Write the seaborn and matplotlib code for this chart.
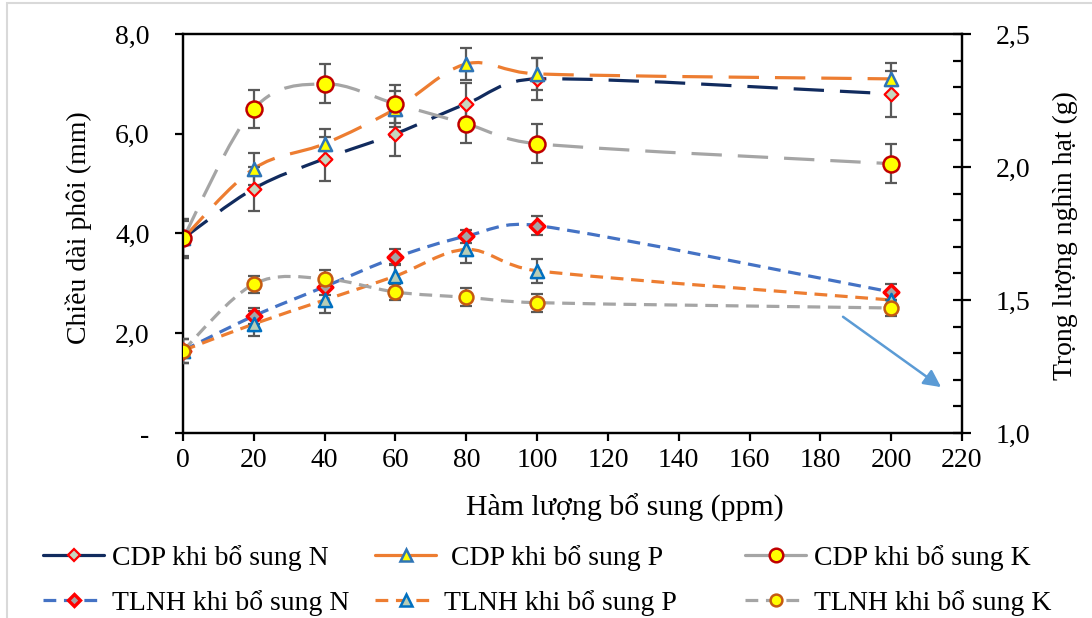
import numpy as np
import pandas as pd
import matplotlib
matplotlib.use("Agg")
import matplotlib.pyplot as plt
import seaborn as sns
from matplotlib.path import Path
from matplotlib.patches import PathPatch, Rectangle
from matplotlib.lines import Line2D
from matplotlib.ticker import FixedLocator, FixedFormatter, MultipleLocator

# ---- data -------------------------------------------------------------
doses = [0, 20, 40, 60, 80, 100, 200]                      # ppm

# embryo length (mm), left axis
cdp_n = [3.9, 4.9, 5.5, 6.0, 6.6, 7.1, 6.8]
cdp_n_err = [0.40, 0.44, 0.44, 0.44, 0.42, 0.42, 0.46]
cdp_p = [3.9, 5.3, 5.8, 6.5, 7.4, 7.2, 7.1]
cdp_p_err = [0.35, 0.32, 0.30, 0.36, 0.32, 0.32, 0.32]
cdp_k = [3.9, 6.5, 7.0, 6.6, 6.2, 5.8, 5.4]
cdp_k_err = [0.40, 0.38, 0.39, 0.38, 0.38, 0.39, 0.39]

# thousand-grain weight (g), right axis
tlnh_n = [1.31, 1.44, 1.55, 1.66, 1.74, 1.78, 1.53]
tlnh_n_err = [0.045, 0.030, 0.030, 0.030, 0.025, 0.034, 0.030]
tlnh_p = [1.31, 1.41, 1.50, 1.59, 1.69, 1.61, 1.50]
tlnh_p_err = [0.045, 0.047, 0.050, 0.045, 0.050, 0.045, 0.030]
tlnh_k = [1.31, 1.56, 1.58, 1.53, 1.51, 1.49, 1.47]
tlnh_k_err = [0.045, 0.032, 0.034, 0.030, 0.034, 0.034, 0.030]

x_ticks = [0, 20, 40, 60, 80, 100, 120, 140, 160, 180, 200, 220]
left_ticks = [0, 2, 4, 6, 8]
left_labels = ["-", "2,0", "4,0", "6,0", "8,0"]
right_ticks = [1.0, 1.5, 2.0, 2.5]
right_labels = ["1,0", "1,5", "2,0", "2,5"]

labels = {
    "cdp_n": "CDP khi bổ sung N", "cdp_p": " CDP khi bổ sung P", "cdp_k": "CDP khi bổ sung K",
    "tlnh_n": "TLNH khi bổ sung N", "tlnh_p": "TLNH khi bổ sung P", "tlnh_k": "TLNH khi bổ sung K",
}

# ---- style ------------------------------------------------------------
sns.set_theme(style="white")
FONT = ["Liberation Serif", "DejaVu Serif"]
plt.rcParams["font.family"] = FONT
plt.rcParams["text.color"] = "black"
plt.rcParams["axes.labelcolor"] = "black"
plt.rcParams["xtick.color"] = "black"
plt.rcParams["ytick.color"] = "black"
FS = 20

NAVY, ORANGE, GRAY, BLUE = "#112B5E", "#ED7D31", "#A5A5A5", "#4472C4"
ERR = "#595959"
LONG_DASH = (0, (9.5, 5))
SHORT_DASH = (0, (4, 2.4))

series = {
    "cdp_n": dict(y=cdp_n, err=cdp_n_err, axis="L", color=NAVY, ls=LONG_DASH, marker="D",
                  ms=7.0, mfc="#C6D7BF", mec="#FF0000", mew=1.6),
    "cdp_p": dict(y=cdp_p, err=cdp_p_err, axis="L", color=ORANGE, ls=LONG_DASH, marker="^",
                  ms=9.5, mfc="#FFFF00", mec="#2E75B6", mew=1.8),
    "cdp_k": dict(y=cdp_k, err=cdp_k_err, axis="L", color=GRAY, ls=LONG_DASH, marker="o",
                  ms=11.5, mfc="#FFFF00", mec="#C00000", mew=1.8),
    "tlnh_n": dict(y=tlnh_n, err=tlnh_n_err, axis="R", color=BLUE, ls=SHORT_DASH, marker="D",
                   ms=7.5, mfc="#A5A5A5", mec="#FF0000", mew=2.4),
    "tlnh_p": dict(y=tlnh_p, err=tlnh_p_err, axis="R", color=ORANGE, ls=SHORT_DASH, marker="^",
                   ms=9.5, mfc="#B7CDB6", mec="#0070C0", mew=1.8),
    "tlnh_k": dict(y=tlnh_k, err=tlnh_k_err, axis="R", color=GRAY, ls=SHORT_DASH, marker="o",
                   ms=10.0, mfc="#FFFF00", mec="#C55A11", mew=1.8),
}

W, H = 1092, 618
fig = plt.figure(figsize=(W / 100, H / 100), dpi=100)
fig.patch.set_facecolor("white")
ax = fig.add_axes([183 / W, 1 - 433 / H, 779 / W, 399 / H])
ax2 = ax.twinx()

ax.set_xlim(0, 220)
ax.set_ylim(0, 8)
ax2.set_ylim(1.0, 2.5)


def smooth_path(axis, xs, ys):
    """Excel-like smoothed curve: cubic Bezier through the points, control
    arms of 1/6 of the neighbour chord, capped at half the segment length
    (computed in display space)."""
    pts = axis.transData.transform(np.column_stack([xs, ys]))
    n = len(pts)
    verts = [pts[0]]
    codes = [Path.MOVETO]
    for i in range(n - 1):
        p0 = pts[i - 1] if i > 0 else pts[i]
        p1, p2 = pts[i], pts[i + 1]
        p3 = pts[i + 2] if i + 2 < n else pts[i + 1]
        seg = np.hypot(*(p2 - p1))
        d02 = np.hypot(*(p2 - p0))
        d13 = np.hypot(*(p3 - p1))
        f0 = min(1 / 6, 0.5 * seg / d02) if d02 > 0 else 0
        f1 = min(1 / 6, 0.5 * seg / d13) if d13 > 0 else 0
        verts += [p1 + f0 * (p2 - p0), p2 - f1 * (p3 - p1), p2]
        codes += [Path.CURVE4] * 3
    data_verts = axis.transData.inverted().transform(np.array(verts))
    return Path(data_verts, codes)


for key, s in series.items():
    target = ax if s["axis"] == "L" else ax2
    frame = pd.DataFrame({"dose": doses, "value": s["y"]})
    patch = PathPatch(smooth_path(target, doses, s["y"]), facecolor="none",
                      edgecolor=s["color"], lw=2.3, linestyle=s["ls"],
                      capstyle="butt", zorder=2)
    target.add_patch(patch)
    target.errorbar(doses, s["y"], yerr=s["err"], fmt="none", ecolor=ERR,
                    elinewidth=1.6, capsize=4, capthick=1.6, zorder=3)
    sns.scatterplot(data=frame, x="dose", y="value", ax=target, marker=s["marker"],
                    s=s["ms"] ** 2, color=s["mfc"], edgecolor=s["mec"],
                    linewidth=s["mew"], zorder=4, legend=False)

# ---- axes formatting --------------------------------------------------
for a in (ax, ax2):
    a.set_xlabel("")
    a.set_ylabel("")
    for sp in a.spines.values():
        sp.set_color("black")
        sp.set_linewidth(1.6)
    a.set_facecolor("none")
ax.set_facecolor("white")
ax2.set_zorder(ax.get_zorder() + 1)

ax.xaxis.set_major_locator(FixedLocator(x_ticks))
ax.set_xticklabels([str(v) for v in x_ticks])
ax.yaxis.set_major_locator(FixedLocator(left_ticks))
ax.yaxis.set_major_formatter(FixedFormatter(left_labels))
ax2.yaxis.set_major_locator(FixedLocator(right_ticks))
ax2.yaxis.set_major_formatter(FixedFormatter(right_labels))
ax2.yaxis.set_minor_locator(MultipleLocator(0.1))

ax.tick_params(axis="x", direction="out", length=6, width=1.6, labelsize=FS, pad=5,
               colors="black", bottom=True)
ax.tick_params(axis="y", direction="out", length=6, width=1.6, labelsize=FS, pad=18,
               colors="black", left=True)
ax2.tick_params(axis="y", which="major", direction="inout", length=13, width=1.6,
                labelsize=FS, pad=18, colors="black", right=True)
ax2.tick_params(axis="y", which="minor", direction="in", length=6.5, width=1.6, right=True)
for lab in ax.get_xticklabels() + ax.get_yticklabels() + ax2.get_yticklabels():
    lab.set_fontfamily(FONT)

ax.set_xlabel("Hàm lượng bổ sung (ppm)", fontsize=FS + 1.5, family=FONT, color="black")
ax.xaxis.set_label_coords((625 - 183) / 779, -(494 - 433) / 399)
ax.set_ylabel("Chiều dài phôi (mm)", fontsize=FS, family=FONT, color="black")
ax.yaxis.set_label_coords(-(183 - 92) / 779, (433 - 228) / 399)
ax2.set_ylabel("Trọng lượng nghìn hạt (g)", fontsize=FS, family=FONT, color="black")
ax2.yaxis.set_label_coords((1053 - 183) / 779, (433 - 236) / 399)

# pointer arrow toward the secondary axis
ax.annotate("", xy=(214.1, 0.92), xytext=(186.4, 2.33),
            arrowprops=dict(arrowstyle="-|>", color="#5B9BD5", lw=1.8,
                            mutation_scale=26, shrinkA=0, shrinkB=0), zorder=5)

# ---- legend: three columns below the plot -----------------------------
def handle(key, solid):
    s = series[key]
    return Line2D([], [], color=s["color"], lw=2.3,
                  linestyle="-" if solid else SHORT_DASH, marker=s["marker"],
                  markersize=s["ms"] * 0.85, markerfacecolor=s["mfc"],
                  markeredgecolor=s["mec"], markeredgewidth=s["mew"])

for col, (a, b) in enumerate([("cdp_n", "tlnh_n"), ("cdp_p", "tlnh_p"), ("cdp_k", "tlnh_k")]):
    x0 = [43, 375, 745][col]
    fig.legend([handle(a, True), handle(b, False)], [labels[a], labels[b]],
               loc="upper left", bbox_to_anchor=(x0 / W, 1 - 545 / H),
               frameon=False, prop={"family": FONT, "size": FS},
               handlelength=2.2, handletextpad=0.3, borderpad=0, borderaxespad=0,
               labelspacing=0.68, numpoints=1)

# light frame around the chart area
fig.patches.append(Rectangle((7 / W, -0.1), 1.2, 1 - 3 / H + 0.1,
                             transform=fig.transFigure, fill=False,
                             edgecolor="#D9D9D9", lw=1.5, zorder=0))

fig.savefig("out.png", dpi=100, facecolor="white")
